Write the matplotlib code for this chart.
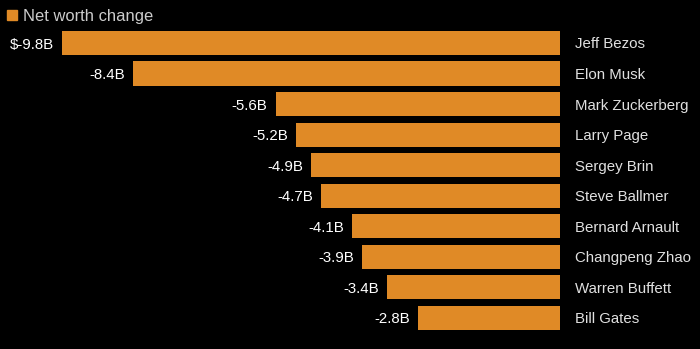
import matplotlib.pyplot as plt
import matplotlib.patches as mpatches

names = ['Jeff Bezos', 'Elon Musk', 'Mark Zuckerberg', 'Larry Page', 'Sergey Brin',
         'Steve Ballmer', 'Bernard Arnault', 'Changpeng Zhao', 'Warren Buffett', 'Bill Gates']
change = [-9.8, -8.4, -5.6, -5.2, -4.9, -4.7, -4.1, -3.9, -3.4, -2.8]
labels = ['$-9.8B', '-8.4B', '-5.6B', '-5.2B', '-4.9B', '-4.7B', '-4.1B', '-3.9B', '-3.4B', '-2.8B']

plt.rcParams['font.family'] = ['Liberation Sans', 'DejaVu Sans']

orange = '#e08a26'
W, H = 700, 349
px = 1 / 50.8          # billions per pixel
zero_px = 560
top_px, step = 43, 30.55
base = 5.5 / step      # baseline offset below bar centre

fig = plt.figure(figsize=(7, 3.49), dpi=100, facecolor='black')
ax = fig.add_axes([0, 0, 1, 1])
ax.set_facecolor('black')

pos = list(range(len(names)))
ax.barh(pos, change, height=0.79, color=orange)

for i, (v, lab, nm) in enumerate(zip(change, labels, names)):
    ax.text(v - 8 * px, i + base, lab, ha='right', va='baseline', color='white', fontsize=10.8)
    ax.text(15 * px, i + base, nm, ha='left', va='baseline', color='#e0e0e0', fontsize=10.8)

ax.set_xlim(-zero_px * px, (W - zero_px) * px)
ax.set_ylim((H - top_px) / step, -top_px / step)
ax.axis('off')

# legend key
fig.add_artist(mpatches.Rectangle((7 / W, 1 - 20 / H), 10 / W, 10 / H,
                                  transform=fig.transFigure, color=orange))
fig.text(23 / W, 1 - 21 / H, 'Net worth change', ha='left', va='baseline',
         color='#cccccc', fontsize=11.9)

fig.savefig('out.png', dpi=100, facecolor='black')
